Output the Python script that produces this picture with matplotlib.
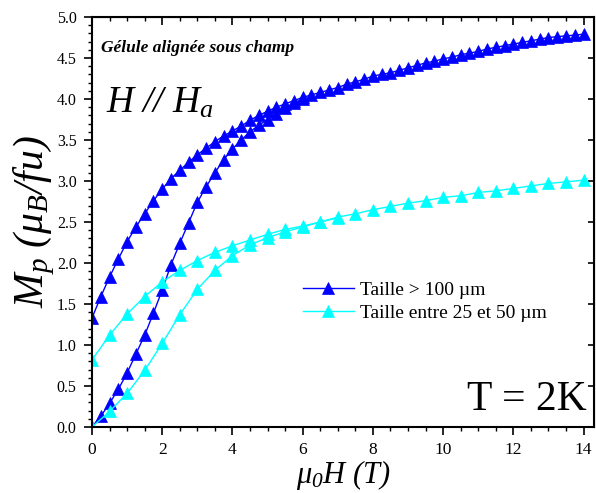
import matplotlib
matplotlib.use("Agg")
import matplotlib.pyplot as plt
from matplotlib.ticker import MultipleLocator, FormatStrFormatter
from matplotlib.lines import Line2D

plt.rcParams['font.family'] = ['Liberation Serif', 'DejaVu Serif']
plt.rcParams['mathtext.fontset'] = 'custom'
plt.rcParams['mathtext.rm'] = 'Liberation Serif:italic'
plt.rcParams['mathtext.it'] = 'Liberation Serif:italic'
plt.rcParams['mathtext.bf'] = 'Liberation Serif:bold'

# ---- data: blue, grains > 100 um (0.25 T steps) ----
blue_up_H = [0, 0.25, 0.5, 0.75, 1.0, 1.25, 1.5, 1.75, 2.0, 2.25, 2.5, 2.75, 3.0,
             3.25, 3.5, 3.75, 4.0, 4.25, 4.5, 4.75, 5.0, 5.25, 5.5, 5.75, 6.0]
blue_up_M = [0.0, 0.13, 0.29, 0.46, 0.66, 0.89, 1.12, 1.39, 1.67, 1.98, 2.24, 2.49, 2.74,
             2.93, 3.10, 3.26, 3.39, 3.50, 3.60, 3.68, 3.75, 3.82, 3.89, 3.95, 4.00]

blue_down_H = [14.0, 13.75, 13.5, 13.25, 13.0, 12.75, 12.5, 12.25, 12.0, 11.75, 11.5, 11.25,
               11.0, 10.75, 10.5, 10.25, 10.0, 9.75, 9.5, 9.25, 9.0, 8.75, 8.5, 8.25, 8.0,
               7.75, 7.5, 7.25, 7.0, 6.75, 6.5, 6.25, 6.0, 5.75, 5.5, 5.25, 5.0, 4.75, 4.5,
               4.25, 4.0, 3.75, 3.5, 3.25, 3.0, 2.75, 2.5, 2.25, 2.0, 1.75, 1.5, 1.25, 1.0,
               0.75, 0.5, 0.25, 0.0]
blue_down_M = [4.79, 4.78, 4.77, 4.76, 4.75, 4.73, 4.71, 4.69, 4.67, 4.65, 4.63, 4.61,
               4.58, 4.56, 4.54, 4.51, 4.49, 4.46, 4.44, 4.41, 4.38, 4.35, 4.32, 4.30, 4.28,
               4.24, 4.21, 4.18, 4.14, 4.11, 4.08, 4.05, 4.02, 3.98, 3.94, 3.90, 3.85, 3.80, 3.74,
               3.67, 3.61, 3.55, 3.48, 3.40, 3.32, 3.23, 3.13, 3.03, 2.90, 2.76, 2.60, 2.44, 2.26,
               2.05, 1.83, 1.59, 1.33]

# ---- data: cyan, grains 25-50 um (0.5 T steps) ----
cyan_up_H = [0, 0.5, 1.0, 1.5, 2.0, 2.5, 3.0, 3.5, 4.0, 4.5, 5.0, 5.5, 6.0, 6.5, 7.0]
cyan_up_M = [0.0, 0.19, 0.41, 0.69, 1.02, 1.37, 1.68, 1.91, 2.09, 2.22, 2.31, 2.38, 2.44, 2.50, 2.55]

cyan_down_H = [14.0, 13.5, 13.0, 12.5, 12.0, 11.5, 11.0, 10.5, 10.0, 9.5, 9.0, 8.5, 8.0, 7.5,
               7.0, 6.5, 6.0, 5.5, 5.0, 4.5, 4.0, 3.5, 3.0, 2.5, 2.0, 1.5, 1.0, 0.5, 0.0]
cyan_down_M = [3.01, 2.99, 2.97, 2.94, 2.91, 2.88, 2.86, 2.82, 2.80, 2.76, 2.73, 2.69, 2.65, 2.60,
               2.56, 2.50, 2.45, 2.41, 2.35, 2.28, 2.21, 2.13, 2.03, 1.91, 1.77, 1.59, 1.38, 1.12, 0.82]

labels = ["Taille > 100 \u00b5m", "Taille entre 25 et 50 \u00b5m"]
BLUE = "#0000FF"
CYAN = "#00FFFF"

fig = plt.figure(figsize=(5.96, 4.93), dpi=100)
ax = fig.add_axes([0.1544, 0.1339, 0.8423, 0.8316])

mk = dict(marker='^', markersize=9, linewidth=1.0, markeredgewidth=0.5)
ax.plot(blue_up_H, blue_up_M, color=BLUE, **mk)
ax.plot(blue_down_H, blue_down_M, color=BLUE, **mk)
ax.plot(cyan_up_H, cyan_up_M, color=CYAN, **mk)
ax.plot(cyan_down_H, cyan_down_M, color=CYAN, **mk)

ax.set_xlim(0, 14.3)
ax.set_ylim(0, 5.0)
ax.xaxis.set_major_locator(MultipleLocator(2))
ax.xaxis.set_minor_locator(MultipleLocator(0.5))
ax.yaxis.set_major_locator(MultipleLocator(0.5))
ax.yaxis.set_minor_locator(MultipleLocator(0.1))
ax.yaxis.set_major_formatter(FormatStrFormatter('%.1f'))
ax.tick_params(axis='both', which='major', direction='out', length=6, width=1.2)
ax.tick_params(axis='x', which='major', labelsize=12.5, pad=5)
ax.tick_params(axis='y', which='major', labelsize=11.5, pad=5)
ax.tick_params(axis='both', which='minor', direction='out', length=3, width=1.0)
for s in ax.spines.values():
    s.set_linewidth(1.5)

# mirrored ticks (inward) on top and right
sec_x = ax.secondary_xaxis('top')
sec_x.xaxis.set_major_locator(MultipleLocator(2))
sec_x.xaxis.set_minor_locator(MultipleLocator(0.5))
sec_x.tick_params(which='major', direction='in', length=6, width=1.2, labeltop=False)
sec_x.tick_params(which='minor', direction='in', length=3, width=1.0)
sec_y = ax.secondary_yaxis('right')
sec_y.yaxis.set_major_locator(MultipleLocator(0.5))
sec_y.tick_params(which='major', direction='in', length=4, width=1.2, labelright=False)

ax.set_xlabel(r"$\mu_0H\ (T)$", fontsize=22, labelpad=0)
ax.set_ylabel(r"$M_p\ (\mu_B/fu)$", fontsize=30, labelpad=0)

ax.text(0.018, 0.945, "Gélule alignée sous champ", transform=ax.transAxes,
        fontsize=12.5, fontweight='bold', fontstyle='italic', va='top', ha='left')
ax.text(0.028, 0.768, r"$H\ //\ H_a$", transform=ax.transAxes, fontsize=27,
        va='baseline', ha='left')
ax.text(0.985, 0.042, "T = 2K", transform=ax.transAxes, fontsize=30,
        va='baseline', ha='right')

handles = [Line2D([], [], color=BLUE, **mk), Line2D([], [], color=CYAN, **mk)]
ax.legend(handles, labels, loc='upper left', bbox_to_anchor=(0.405, 0.375),
          frameon=False, fontsize=14, handlelength=2.6, handletextpad=0.3,
          labelspacing=0.3, borderaxespad=0)

fig.savefig("out.png", dpi=100)
